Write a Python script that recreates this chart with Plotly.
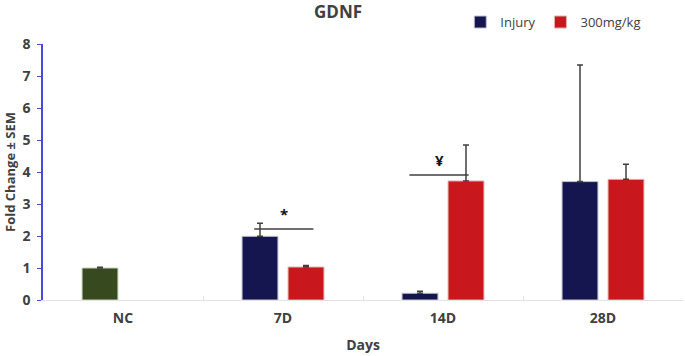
import plotly.graph_objects as go

categories = ["NC", "7D", "14D", "28D"]
nc_value = [1.0]
nc_err = [0.02]
injury_days = ["7D", "14D", "28D"]
injury_values = [1.99, 0.21, 3.70]
injury_err = [0.41, 0.06, 3.64]
dose_days = ["7D", "14D", "28D"]
dose_values = [1.03, 3.72, 3.77]
dose_err = [0.05, 1.12, 0.47]

sig_days = [1, 2]          # category index
sig_levels = [2.22, 3.91]
sig_spans = [(-0.18, 0.19), (-0.21, 0.16)]
sig_marks = ["*", "¥"]

NAVY = "#15164f"
RED = "#c8181e"
GREEN = "#374a1f"
ERR = "#3f3f3f"
TXT = "#404040"
FONT = "Open Sans"


def up_err(vals):
    return dict(type="data", symmetric=False, array=vals, arrayminus=[0] * len(vals),
                color=ERR, thickness=1.5, width=3)


fig = go.Figure()
fig.add_trace(go.Bar(x=["NC"], y=nc_value, offsetgroup="inj", showlegend=False,
                     marker=dict(color=GREEN, line=dict(color="#c9d1bd", width=1)),
                     error_y=up_err(nc_err)))
fig.add_trace(go.Bar(x=injury_days, y=injury_values, name="Injury", offsetgroup="inj",
                     marker=dict(color=NAVY, line=dict(color="#c0c0d0", width=1)),
                     error_y=up_err(injury_err)))
fig.add_trace(go.Bar(x=dose_days, y=dose_values, name="300mg/kg", offsetgroup="dose",
                     marker=dict(color=RED, line=dict(color="#e0b0b0", width=1)),
                     error_y=up_err(dose_err)))

for ci, lvl, (a, b), mk in zip(sig_days, sig_levels, sig_spans, sig_marks):
    fig.add_shape(type="line", xref="x", yref="y", x0=ci + a, x1=ci + b, y0=lvl, y1=lvl,
                  line=dict(color=ERR, width=1.5))
    fig.add_annotation(x=ci + (a + b) / 2, y=lvl, xref="x", yref="y", text=mk,
                       showarrow=False, yshift=15,
                       font=dict(family=FONT, size=15, color="#111111", weight="bold"))

fig.update_layout(
    width=685, height=356,
    margin=dict(l=43, r=2, t=44, b=55.5, autoexpand=False),
    paper_bgcolor="white", plot_bgcolor="white",
    barmode="group", bargap=0.425, bargroupgap=0.22,
    title=dict(text="GDNF", x=0.461, xanchor="center", xref="paper",
               y=0.966, yanchor="middle",
               font=dict(family=FONT, size=17, color=TXT, weight="bold")),
    legend=dict(orientation="h", x=0.652, y=0.938, xanchor="left", yanchor="middle",
                yref="container",
                font=dict(family=FONT, size=13, color=TXT),
                tracegroupgap=0, bgcolor="rgba(0,0,0,0)"),
    font=dict(family=FONT, color=TXT),
)
fig.update_xaxes(categoryorder="array", categoryarray=categories, range=[-0.5, 3.5],
                 automargin=False,
                 showline=True, linecolor="#e3e3e3", linewidth=1,
                 ticks="inside", tickson="boundaries", ticklen=4, tickcolor="#e3e3e3",
                 ticklabelstandoff=5,
                 tickfont=dict(family=FONT, size=14, color=TXT, weight="bold"),
                 title=dict(text="Days", standoff=14,
                            font=dict(family=FONT, size=14, color=TXT, weight="bold")),
                 showgrid=False, zeroline=False)
fig.update_yaxes(range=[0, 8], dtick=1, automargin=False,
                 showline=True, linecolor="#4a4ad6", linewidth=1.5,
                 ticks="outside", ticklen=4, tickcolor="#4a4ad6",
                 ticklabelstandoff=4,
                 tickfont=dict(family=FONT, size=14, color=TXT, weight="bold"),
                 title=dict(text="Fold Change ± SEM", standoff=4,
                            font=dict(family=FONT, size=13, color=TXT, weight="bold")),
                 showgrid=False, zeroline=False)

fig.write_html("out.html", config={"displayModeBar": False},
               post_script="document.body.style.margin='0';document.body.style.padding='0';")
